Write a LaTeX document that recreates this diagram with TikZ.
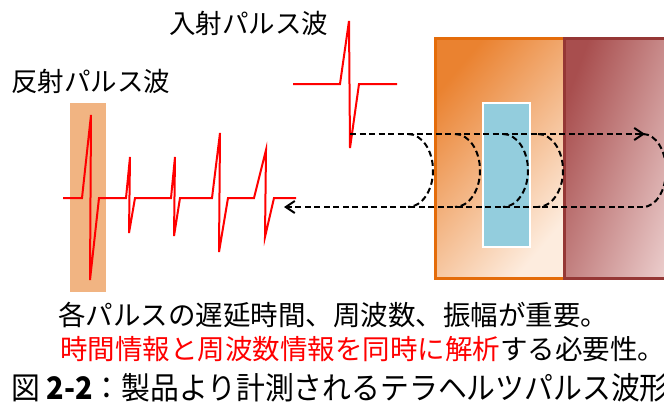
\documentclass[tikz,border=0pt]{standalone}
\usepackage{fontspec}
\setmainfont{Noto Sans CJK JP}
\newfontfamily\capfont[FakeStretch=0.93]{Noto Sans CJK JP}
\usepackage{tikz}
\usetikzlibrary{arrows.meta,calc}
\definecolor{hilite}{RGB}{241,180,130}
\definecolor{orline}{RGB}{228,108,10}
\definecolor{ordark}{RGB}{234,130,48}
\definecolor{ormid}{RGB}{246,186,136}
\definecolor{orlight}{RGB}{253,236,222}
\definecolor{rdline}{RGB}{149,55,53}
\definecolor{rddark}{RGB}{168,78,78}
\definecolor{rdmid}{RGB}{216,146,145}
\definecolor{rdlight}{RGB}{240,214,213}
\definecolor{layerblue}{RGB}{147,205,221}
\tikzset{%
  >={Straight Barb[length=9pt,width=12pt]},
  wave/.style={draw=red,line width=2pt},
  ray/.style={draw=black,line width=2pt,dash pattern=on 6pt off 3.5pt},
  lbl/.style={inner sep=0pt,anchor=west,font=\fontsize{26.5}{30}\selectfont}
}
\begin{document}
\begin{tikzpicture}[x=1pt,y=-1pt,%
	note/.style={lbl,font=\fontsize{27.5}{32}\selectfont},%
	captxt/.style={lbl,font=\capfont\fontsize{31}{35}\selectfont}]
	\useasboundingbox (0,0) rectangle (664,405);
	% sample layers
	\draw[orline,line width=3pt,top color=ordark,middle color=ormid,bottom color=orlight,shading angle=50] (435,38) rectangle (564,278);
	\draw[rdline,line width=3pt,top color=rddark,middle color=rdmid,bottom color=rdlight,shading angle=70] (564,38) rectangle (700,278);
	\draw[white,line width=2.5pt,fill=layerblue] (483,103) rectangle (530,247);
	\fill[hilite] (70,103) rectangle (106,292);
	% pulses
	\draw[wave] (293,84) -- (340,84) -- (349,21) -- (350,148) -- (359,84) -- (397,84);
	\draw[wave] (63,198) \foreach \a/\px/\py/\bx/\by/\e in {82/91/115/90/280/99,126/130/157/129/233/135,%
		171/175/157/174/236/180,212/220/133/219/252/228,254/266/150/265/237/274}
		{ -- (\a,198) -- (\px,\py) -- (\bx,\by) -- (\e,198)} -- (296,198);
	% rays
	\coordinate (tx) at (350,134);
	\coordinate (txend) at (645,134);
	\coordinate (rx) at (643,207);
	\coordinate (rxend) at (284,207);
	\draw[ray,->] (tx) -- (txend);
	\draw[ray,->] (rx) -- (rxend);
	\foreach \s/\r in {408/25,455/25,503/25,538/25,643/23}
		\draw[ray] (\s,134) arc[start angle=-90,end angle=90,x radius=\r,y radius=36.5];
	% texts
	\node[lbl] (inlbl) at (169,23.5) {入射パルス波};
	\node[lbl] (outlbl) at (11,81.5) {反射パルス波};
	\node[note] (note1) at (58,315) {各パルスの遅延時間、周波数、振幅が重要。};
	\node[note] (note2) at (60,349) {\textcolor{red}{時間情報と周波数情報を同時に解析}する必要性。};
	\node[captxt] (caption) at (11,387.5) {図 {\bfseries 2-2}：製品より計測されるテラヘルツパルス波形};
\end{tikzpicture}
\end{document}
